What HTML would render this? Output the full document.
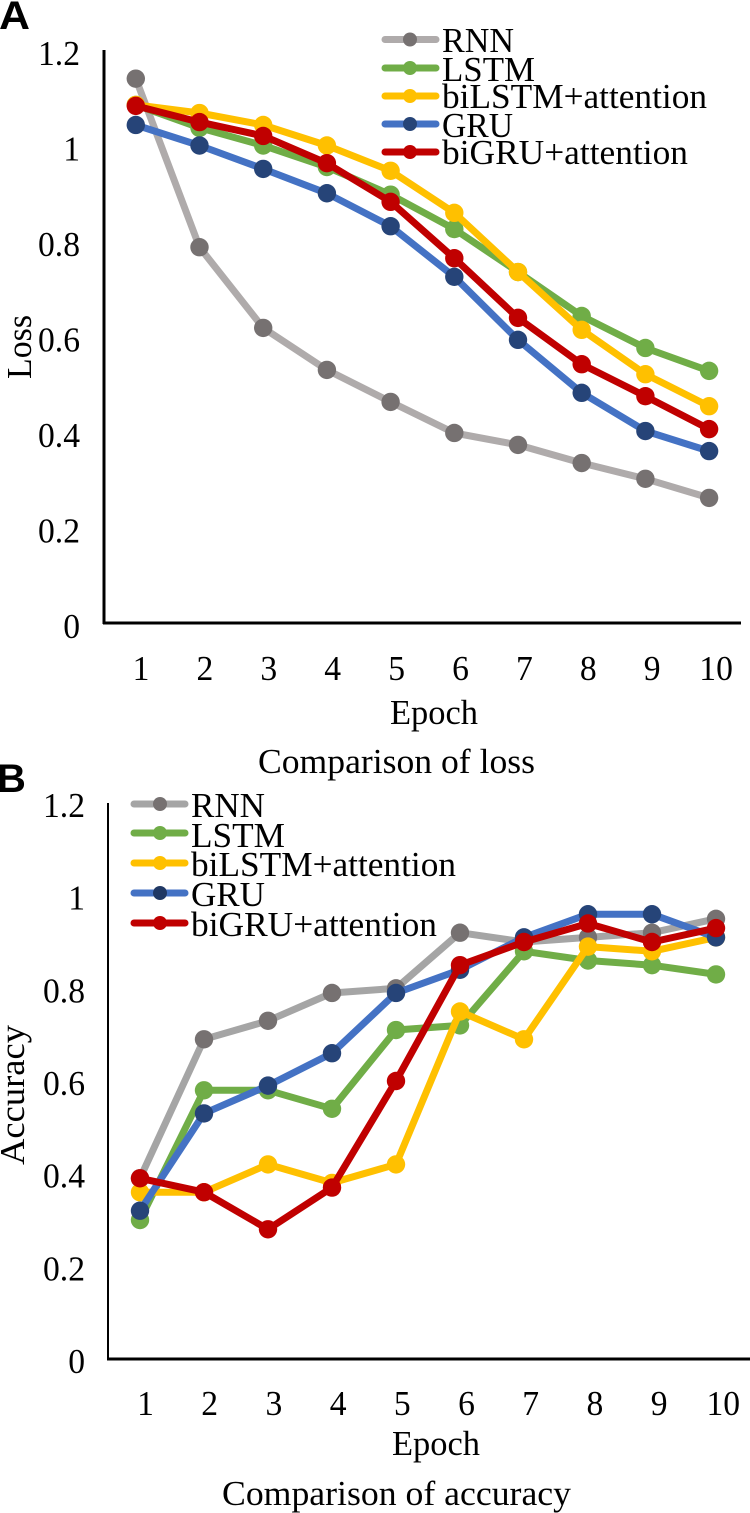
<!DOCTYPE html>
<html>
<head>
<meta charset="utf-8">
<title>Comparison of loss and accuracy</title>
<style>
html,body{margin:0;padding:0;background:#fff;}
svg{display:block;}
text{font-family:"Liberation Serif",serif;font-size:35px;fill:#000;}
.panel{font-family:"Liberation Sans",sans-serif;font-weight:700;font-size:40px;}
</style>
</head>
<body>
<svg id="figure" xmlns="http://www.w3.org/2000/svg" width="750" height="1513" viewBox="0 0 750 1513">
  <rect x="0" y="0" width="750" height="1513" fill="#ffffff"/>

  <text class="panel" x="-1" y="29" textLength="31" lengthAdjust="spacingAndGlyphs">A</text>
  <text class="panel" x="-3" y="792">B</text>

  <g id="chart-a"></g>
  <g id="chart-b"></g>

  <text transform="translate(31,347) rotate(-90)" text-anchor="middle" textLength="64" lengthAdjust="spacingAndGlyphs">Loss</text>
  <text x="390" y="724" textLength="88" lengthAdjust="spacingAndGlyphs">Epoch</text>
  <text x="258" y="773" textLength="277" lengthAdjust="spacingAndGlyphs">Comparison of loss</text>

  <text transform="translate(24,1095) rotate(-90)" text-anchor="middle" textLength="140" lengthAdjust="spacingAndGlyphs">Accuracy</text>
  <text x="392" y="1455" textLength="88" lengthAdjust="spacingAndGlyphs">Epoch</text>
  <text x="222" y="1505" textLength="349" lengthAdjust="spacingAndGlyphs">Comparison of accuracy</text>

  <g id="legend-a">
    <g>
      <line x1="385" y1="39.5" x2="436" y2="39.5" stroke="#AFABAB" stroke-width="7" stroke-linecap="round"/>
      <circle cx="410" cy="39.5" r="7" fill="#767171"/>
      <text x="442" y="52" textLength="72" lengthAdjust="spacingAndGlyphs">RNN</text>
    </g>
    <g>
      <line x1="385" y1="68" x2="436" y2="68" stroke="#70AD47" stroke-width="7" stroke-linecap="round"/>
      <circle cx="410" cy="68" r="7" fill="#70AD47"/>
      <text x="442" y="81" textLength="93" lengthAdjust="spacingAndGlyphs">LSTM</text>
    </g>
    <g>
      <line x1="385" y1="96" x2="436" y2="96" stroke="#FFC000" stroke-width="7" stroke-linecap="round"/>
      <circle cx="410" cy="96" r="7" fill="#FFC000"/>
      <text x="442" y="108" textLength="265" lengthAdjust="spacingAndGlyphs">biLSTM+attention</text>
    </g>
    <g>
      <line x1="385" y1="124" x2="436" y2="124" stroke="#4472C4" stroke-width="7" stroke-linecap="round"/>
      <circle cx="410" cy="124" r="7" fill="#264478"/>
      <text x="442" y="137" textLength="71" lengthAdjust="spacingAndGlyphs">GRU</text>
    </g>
    <g>
      <line x1="385" y1="152" x2="436" y2="152" stroke="#C00000" stroke-width="7" stroke-linecap="round"/>
      <circle cx="410" cy="152" r="7" fill="#C00000"/>
      <text x="442" y="164" textLength="246" lengthAdjust="spacingAndGlyphs">biGRU+attention</text>
    </g>
  </g>

  <g id="legend-b">
    <g>
      <line x1="134" y1="804" x2="185" y2="804" stroke="#A5A5A5" stroke-width="7" stroke-linecap="round"/>
      <circle cx="160" cy="804" r="7" fill="#767171"/>
      <text x="191" y="817" textLength="74" lengthAdjust="spacingAndGlyphs">RNN</text>
    </g>
    <g>
      <line x1="134" y1="833" x2="185" y2="833" stroke="#70AD47" stroke-width="7" stroke-linecap="round"/>
      <circle cx="160" cy="833" r="7" fill="#70AD47"/>
      <text x="191" y="847" textLength="94" lengthAdjust="spacingAndGlyphs">LSTM</text>
    </g>
    <g>
      <line x1="134" y1="863" x2="185" y2="863" stroke="#FFC000" stroke-width="7" stroke-linecap="round"/>
      <circle cx="160" cy="863" r="7" fill="#FFC000"/>
      <text x="191" y="876" textLength="265" lengthAdjust="spacingAndGlyphs">biLSTM+attention</text>
    </g>
    <g>
      <line x1="134" y1="893" x2="185" y2="893" stroke="#4472C4" stroke-width="7" stroke-linecap="round"/>
      <circle cx="160" cy="893" r="7" fill="#203864"/>
      <text x="191" y="906" textLength="74" lengthAdjust="spacingAndGlyphs">GRU</text>
    </g>
    <g>
      <line x1="134" y1="923" x2="185" y2="923" stroke="#C00000" stroke-width="7" stroke-linecap="round"/>
      <circle cx="160" cy="923" r="7" fill="#C00000"/>
      <text x="191" y="936" textLength="246" lengthAdjust="spacingAndGlyphs">biGRU+attention</text>
    </g>
  </g>
</svg>

<script>
// Shared categories and tick labels
var epochs = ['1','2','3','4','5','6','7','8','9','10'];
var yTicks = [0, 0.2, 0.4, 0.6, 0.8, 1, 1.2];
var seriesNames = ['RNN','LSTM','biLSTM+attention','GRU','biGRU+attention'];

// Panel A: loss values
var lossRNN    = [1.14, 0.787, 0.618, 0.53, 0.463, 0.398, 0.373, 0.335, 0.302, 0.262];
var lossLSTM   = [1.085, 1.037, 1.0, 0.955, 0.897, 0.825, 0.735, 0.643, 0.576, 0.528];
var lossBiLSTM = [1.085, 1.068, 1.043, 1.0, 0.947, 0.859, 0.735, 0.614, 0.521, 0.454];
var lossGRU    = [1.043, 1.0, 0.951, 0.9, 0.831, 0.725, 0.593, 0.482, 0.402, 0.36];
var lossBiGRU  = [1.083, 1.049, 1.02, 0.963, 0.882, 0.764, 0.639, 0.542, 0.475, 0.406];

// Panel B: accuracy values
var accRNN    = [0.39, 0.69, 0.73, 0.79, 0.80, 0.92, 0.90, 0.91, 0.92, 0.95];
var accLSTM   = [0.30, 0.58, 0.58, 0.54, 0.71, 0.72, 0.88, 0.86, 0.85, 0.83];
var accBiLSTM = [0.36, 0.36, 0.42, 0.38, 0.42, 0.75, 0.69, 0.89, 0.88, 0.91];
var accGRU    = [0.32, 0.53, 0.59, 0.66, 0.79, 0.84, 0.91, 0.96, 0.96, 0.91];
var accBiGRU  = [0.39, 0.36, 0.28, 0.37, 0.60, 0.85, 0.90, 0.94, 0.90, 0.93];

var lineColors = ['#AFABAB','#70AD47','#FFC000','#4472C4','#C00000'];
var markerColors = ['#767171','#70AD47','#FFC000','#264478','#C00000'];

var NS = 'http://www.w3.org/2000/svg';

function make(tag, attrs, parent) {
  var el = document.createElementNS(NS, tag);
  for (var k in attrs) el.setAttribute(k, attrs[k]);
  parent.appendChild(el);
  return el;
}

function slug(name) {
  return name.toLowerCase().replace(/\+/g, '-').replace(/[^a-z0-9-]/g, '');
}

function narrowText(label) {
  label.setAttribute('textLength', (label.getComputedTextLength() * 0.96).toFixed(1));
  label.setAttribute('lengthAdjust', 'spacingAndGlyphs');
}

function drawChart(rootId, data, box) {
  var root = document.getElementById(rootId);
  var xScale = function (i) { return box.firstX + box.stepX * i; };
  var yScale = function (v) { return box.bottom - (v / 1.2) * (box.bottom - box.top); };

  var yAxis = make('line', {x1: box.left, y1: box.top, x2: box.left, y2: box.bottom + 1, stroke: '#000', 'stroke-width': box.yAxisWidth}, root);
  
  

  var xAxis = make('line', {x1: box.left - 1, y1: box.bottom, x2: box.right, y2: box.bottom, stroke: '#000', 'stroke-width': 3}, root);
  
  

  yTicks.forEach(function (t) {
    var label = make('text', {x: box.yLabelRight, y: yScale(t) + box.yLabelDrop, 'text-anchor': 'end'}, root);
    label.textContent = String(t);
    
    
    narrowText(label);
  });

  epochs.forEach(function (e, i) {
    var label = make('text', {x: box.xLabelStart + box.xLabelStep * i, y: box.xLabelBase, 'text-anchor': 'middle'}, root);
    label.textContent = e;
    
    
    narrowText(label);
  });

  data.forEach(function (values, s) {
    var group = make('g', {}, root);
    
    

    var pts = values.map(function (v, i) { return xScale(i).toFixed(1) + ',' + yScale(v).toFixed(1); }).join(' ');
    var color = s === 0 && box.rnnLine ? box.rnnLine : lineColors[s];
    var line = make('polyline', {points: pts, fill: 'none', stroke: color, 'stroke-width': 7, 'stroke-linejoin': 'round', 'stroke-linecap': 'round'}, group);
    
    

    values.forEach(function (v, i) {
      var dot = make('circle', {cx: xScale(i), cy: yScale(v), r: 9.2, fill: markerColors[s]}, group);
      
      
    });
  });
}

drawChart('chart-a', [lossRNN, lossLSTM, lossBiLSTM, lossGRU, lossBiGRU], {
  left: 104, right: 741, top: 50, bottom: 623, firstX: 135.8, stepX: 63.7,
  yAxisWidth: 3, yLabelRight: 80, yLabelDrop: 15, xLabelStart: 141, xLabelStep: 63.9, xLabelBase: 680
});

drawChart('chart-b', [accRNN, accLSTM, accBiLSTM, accGRU, accBiGRU], {
  left: 108, right: 750, top: 803, bottom: 1359, firstX: 140, stepX: 64,
  yAxisWidth: 2, yLabelRight: 85, yLabelDrop: 14, xLabelStart: 145.5, xLabelStep: 64.2, xLabelBase: 1415, rnnLine: '#A5A5A5'
});
</script>
</body>
</html>
